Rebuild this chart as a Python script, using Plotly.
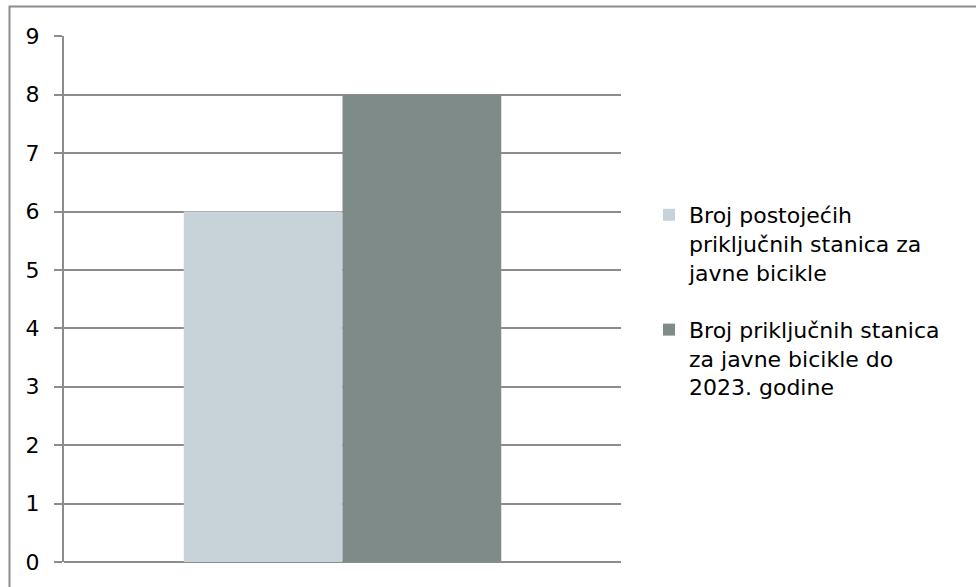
import plotly.graph_objects as go

categories = [""]
series_names = [
    "Broj postojećih<br>priključnih stanica za<br>javne bicikle",
    "Broj priključnih stanica<br>za javne bicikle do<br>2023. godine",
]
series_values = [[6], [8]]
series_colors = ["#C8D3D9", "#7F8B89"]
y_ticks = list(range(0, 10))

W, H = 976, 587
L, R, T, B = 64, 621, 36, 562

fig = go.Figure()
for i, (name, vals, col) in enumerate(zip(series_names, series_values, series_colors)):
    fig.add_trace(go.Bar(x=categories, y=vals, name=name, legendgroup=f"g{i}",
                         marker=dict(color=col, line=dict(width=0))))

pw, ph = R - L, B - T
def px(x):
    return (x - L) / pw
def py(y):
    return (B - y) / ph

fig.add_shape(type="rect", xref="paper", yref="paper",
              x0=px(9.5), x1=px(1000), y0=py(620), y1=py(6.5),
              line=dict(color="#8C8C8C", width=2), fillcolor="rgba(0,0,0,0)", layer="below")

FONT = "DejaVu Sans"
fig.update_layout(
    width=W, height=H,
    margin=dict(l=L, r=W - R, t=T, b=H - B, pad=0, autoexpand=False),
    paper_bgcolor="white", plot_bgcolor="white",
    barmode="group", bargap=0.43, bargroupgap=0,
    font=dict(family=FONT, size=22, color="black"),
    showlegend=True,
    legend=dict(x=px(649), y=py(194), xanchor="left", yanchor="top",
                valign="top", tracegroupgap=26, font=dict(family=FONT, size=22),
                traceorder="grouped", itemclick=False),
    xaxis=dict(showticklabels=False, showgrid=False, zeroline=False, showline=False, ticks="",
               automargin=False),
    yaxis=dict(range=[0, 9.005], tickvals=y_ticks, showgrid=True, gridcolor="#8C8C8C", gridwidth=2,
               zeroline=True, zerolinecolor="#8C8C8C", zerolinewidth=2,
               showline=True, linecolor="#8C8C8C", linewidth=2,
               ticks="outside", ticklen=8, tickcolor="#8C8C8C", tickwidth=2,
               ticklabelstandoff=10, tickfont=dict(family=FONT, size=22, color="black"),
               automargin=False),
)

fig.write_html("out.html", config={"displayModeBar": False},
               post_script="document.body.style.margin='0';document.body.style.overflow='hidden';")
